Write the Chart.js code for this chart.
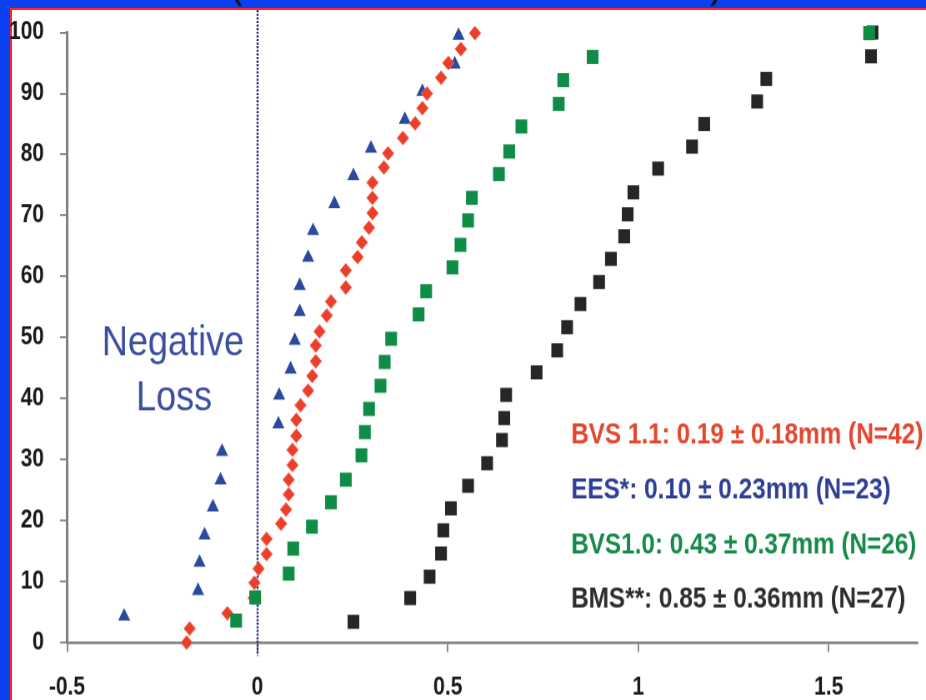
<!DOCTYPE html>
<html>
<head>
<meta charset="utf-8">
<script src="https://cdn.jsdelivr.net/npm/chart.js@4.4.1/dist/chart.umd.min.js"></script>
<style>
html,body{margin:0;padding:0;width:926px;height:700px;overflow:hidden;background:#0a40f0;}
#panel{position:absolute;left:10px;top:8px;width:916px;height:692px;background:#fff;border-left:2px solid #ff2626;border-top:2px solid #ff2626;box-sizing:border-box;}
#wrap{position:absolute;left:0;top:0;width:926px;height:583px;transform:scaleY(1.2);transform-origin:0 0;}
</style>
</head>
<body>
<div id="panel"></div>
<div id="wrap"><canvas id="c" width="926" height="583"></canvas></div>
<script>
// ---- data (late loss in mm vs cumulative %) ----
const seriesNames = ['BVS 1.1', 'EES*', 'BVS1.0', 'BMS**'];
const statLabels = [
  'BVS 1.1: 0.19 \u00B1 0.18mm (N=42)',
  'EES*: 0.10 \u00B1 0.23mm (N=23)',
  'BVS1.0: 0.43 \u00B1 0.37mm (N=26)',
  'BMS**: 0.85 \u00B1 0.36mm (N=27)'
];
const xTickValues = [-0.5, 0, 0.5, 1, 1.5];
const xTickLabels = ['-0.5', '0', '0.5', '1', '1.5'];
const yTickValues = [0, 10, 20, 30, 40, 50, 60, 70, 80, 90, 100];
const yTickLabels = ['0', '10', '20', '30', '40', '50', '60', '70', '80', '90', '100'];

const bvs11X = [-0.186, -0.178, -0.079, -0.01, -0.008, 0.003, 0.024, 0.024, 0.062, 0.075,
  0.082, 0.082, 0.092, 0.092, 0.102, 0.102, 0.113, 0.133, 0.144, 0.153,
  0.153, 0.163, 0.182, 0.193, 0.232, 0.232, 0.263, 0.274, 0.293, 0.302,
  0.302, 0.302, 0.332, 0.343, 0.382, 0.414, 0.433, 0.445, 0.482, 0.501,
  0.534, 0.571];
const bvs11Y = [0, 2.3, 4.8, 7.3, 9.8, 12.1, 14.5, 17.0, 19.5, 21.8,
  24.3, 26.7, 29.1, 31.6, 33.9, 36.5, 38.9, 41.3, 43.7, 46.1,
  48.7, 51.0, 53.6, 55.9, 58.2, 61.0, 63.2, 65.6, 68.0, 70.4,
  72.9, 75.4, 77.9, 80.2, 82.7, 85.1, 87.6, 90.0, 92.6, 95.0,
  97.3, 99.9];

const eesX = [-0.35, -0.156, -0.152, -0.139, -0.117, -0.097, -0.093, 0.055, 0.057, 0.087,
  0.098, 0.111, 0.111, 0.133, 0.146, 0.202, 0.252, 0.298, 0.387, 0.433, 0.518, 0.528];
const eesY = [4.3, 8.5, 13.1, 17.6, 22.2, 26.6, 31.3, 35.8, 40.5, 44.8,
  49.5, 54.2, 58.5, 63.1, 67.5, 71.9, 76.5, 81.0, 85.7, 90.3, 94.8, 99.5];

const bvs10X = [-0.056, -0.006, 0.082, 0.094, 0.143, 0.193, 0.232, 0.273, 0.282, 0.293,
  0.323, 0.334, 0.351, 0.423, 0.443, 0.512, 0.533, 0.553, 0.563, 0.634,
  0.661, 0.693, 0.791, 0.803, 0.88, 1.606];
const bvs10Y = [3.6, 7.4, 11.3, 15.4, 19.0, 23.0, 26.7, 30.7, 34.5, 38.3,
  42.1, 46.0, 49.8, 53.8, 57.6, 61.5, 65.2, 69.2, 72.9, 76.8,
  80.5, 84.6, 88.3, 92.2, 96.0, 99.9];

const bmsX = [0.252, 0.401, 0.452, 0.482, 0.488, 0.508, 0.553, 0.603, 0.642, 0.648,
  0.653, 0.733, 0.787, 0.813, 0.848, 0.897, 0.928, 0.963, 0.972, 0.987,
  1.052, 1.141, 1.173, 1.312, 1.336, 1.611, 1.615];
const bmsY = [3.4, 7.3, 10.8, 14.6, 18.4, 22.0, 25.7, 29.4, 33.2, 36.8,
  40.6, 44.3, 47.9, 51.7, 55.5, 59.1, 62.9, 66.6, 70.2, 73.8,
  77.7, 81.3, 85.0, 88.7, 92.4, 96.1, 100];

// ---- drawing ----
const pts = (xs, ys) => xs.map((x, i) => ({x: x, y: ys[i]}));
const tickFont = {family: "'Liberation Sans Narrow', 'Liberation Sans', Arial, sans-serif", size: 21, weight: 'bold'};
const statColors = ['#e5462e', '#2f3f96', '#168a4a', '#2e2e2e'];
const statCenters = [360.5, 406.5, 452.5, 497];

const decor = {
  id: 'decor',
  beforeDatasetsDraw(chart) {
    const ctx = chart.ctx;
    const x0 = Math.round(chart.scales.x.getPixelForValue(0)) + 0.5;
    ctx.save();
    ctx.strokeStyle = '#1e1e78';
    ctx.lineWidth = 2;
    ctx.setLineDash([1.8, 1.2]);
    ctx.beginPath();
    ctx.moveTo(x0, 8.4);
    ctx.lineTo(x0, 546);
    ctx.stroke();
    ctx.restore();
  },
  afterDraw(chart) {
    const ctx = chart.ctx;
    ctx.save();
    // title remnants (cut off above the frame)
    ctx.fillStyle = '#111';
    ctx.font = "40px 'Liberation Sans', Arial, sans-serif";
    ctx.textBaseline = 'alphabetic';
    ctx.fillText('(', 229, -3.2);
    ctx.fillText(')', 710, -3.2);

    // "Negative Loss"
    ctx.fillStyle = '#3c4f9f';
    ctx.font = "36px 'Liberation Sans', Arial, sans-serif";
    ctx.textAlign = 'center';
    ctx.fillText('Negative', 173, 296);
    ctx.fillText('Loss', 174, 341.5);

    // statistics block
    const size = 24;
    ctx.font = "bold " + size + "px 'Liberation Sans', Arial, sans-serif";
    ctx.textAlign = 'left';
    const w0 = ctx.measureText(statLabels[0]).width;
    const sx = 352 / w0;
    statLabels.forEach((t, i) => {
      ctx.save();
      ctx.translate(571, statCenters[i] + 0.358 * size);
      ctx.scale(sx, 1);
      ctx.fillStyle = statColors[i];
      ctx.fillText(t, 0, 0);
      ctx.restore();
    });
    ctx.restore();
  }
};

new Chart(document.getElementById('c'), {
  type: 'scatter',
  data: {
    datasets: [
      {label: seriesNames[2], data: pts(bvs10X, bvs10Y), pointStyle: 'rect', pointRadius: 8.3,
        backgroundColor: '#0f8d47', borderColor: '#0f8d47', borderWidth: 0, clip: false},
      {label: seriesNames[0], data: pts(bvs11X, bvs11Y), pointStyle: 'rectRot', pointRadius: 5.8,
        backgroundColor: '#ea3f2b', borderColor: '#f36a55', borderWidth: 0.8, clip: false},
      {label: seriesNames[1], data: pts(eesX, eesY), pointStyle: 'triangle', pointRadius: 7,
        backgroundColor: '#2b4a9e', borderColor: '#2b4a9e', borderWidth: 0, clip: false},
      {label: seriesNames[3], data: pts(bmsX, bmsY), pointStyle: 'rect', pointRadius: 8.3,
        backgroundColor: '#262626', borderColor: '#262626', borderWidth: 0, clip: false}
    ]
  },
  options: {
    responsive: false,
    animation: false,
    devicePixelRatio: 1.2,
    events: [],
    layout: {padding: {top: 27.08, left: 0, right: 0, bottom: 0}},
    plugins: {legend: {display: false}, tooltip: {enabled: false}, title: {display: false}},
    scales: {
      x: {
        type: 'linear', min: -0.5, max: 1.734,
        afterBuildTicks: s => { s.ticks = xTickValues.map(v => ({value: v})); },
        afterFit: s => { s.height = 48; s.paddingLeft = 0; s.paddingRight = 0; },
        grid: {display: true, drawOnChartArea: false, drawTicks: true, tickLength: 8, color: '#7d7d7d', lineWidth: 1.5},
        border: {display: true, color: '#7d7d7d', width: 2},
        ticks: {padding: 17, color: '#1a1a1a', font: tickFont, maxRotation: 0, autoSkip: false,
          callback: v => xTickLabels[xTickValues.indexOf(v)]}
      },
      y: {
        type: 'linear', min: 0, max: 100,
        afterBuildTicks: s => { s.ticks = yTickValues.map(v => ({value: v})); },
        afterFit: s => { s.width = 67; s.paddingTop = 0; s.paddingBottom = 0; },
        grid: {display: true, drawOnChartArea: false, drawTicks: true, tickLength: 7, color: '#7d7d7d', lineWidth: 1.5},
        border: {display: true, color: '#808080', width: 2.5},
        ticks: {padding: 16, color: '#1a1a1a', font: tickFont, autoSkip: false,
          callback: v => yTickLabels[yTickValues.indexOf(v)]}
      }
    }
  },
  plugins: [decor]
});
</script>
</body>
</html>
